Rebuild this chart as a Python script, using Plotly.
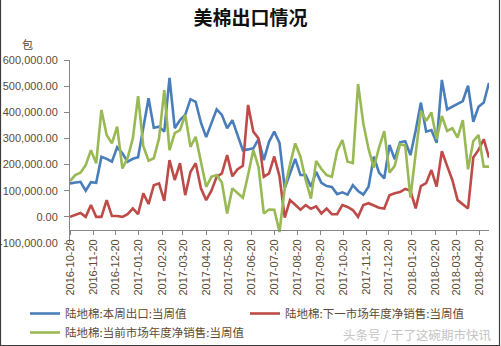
import pandas as pd
import plotly.graph_objects as go

# Weekly report dates (Thursdays)
weeks = pd.date_range("2016-10-20", periods=81, freq="7D").strftime("%Y-%m-%d").tolist()

# 陆地棉:本周出口:当周值 (bales)
exports_this_week = [
    128000, 131000, 134000, 100000, 133000, 130000, 230000, 222000, 211000, 266000,
    243000, 211000, 222000, 228000, 339000, 454000, 341000, 345000, 326000, 532000,
    339000, 370000, 390000, 450000, 440000, 360000, 305000, 355000, 411000, 390000,
    339000, 370000, 315000, 255000, 258000, 262000, 297000, 217000, 287000, 326000,
    283000, 109000, 166000, 222000, 160000, 160000, 115000, 172000, 130000, 118000,
    114000, 87000, 94000, 85000, 121000, 99000, 85000, 115000, 230000, 169000,
    147000, 275000, 220000, 285000, 289000, 236000, 330000, 437000, 326000, 332000,
    283000, 524000, 411000, 421000, 430000, 443000, 502000, 364000, 421000, 437000,
    513000,
]

# 陆地棉:下一市场年度净销售:当周值 (bales)
next_year_net_sales = [
    0, 8000, 15000, 0, 45000, 0, 0, 64000, 3000, 3000,
    0, 10000, 32000, 10000, 90000, 49000, 121000, 128000, 61000, 217000,
    141000, 205000, 83000, 172000, 205000, 109000, 64000, 100000, 153000, 166000,
    236000, 155000, 182000, 195000, 428000, 326000, 300000, 153000, 166000, 231000,
    155000, -3000, 64000, 46000, 27000, 45000, 31000, 40000, 13000, 32000,
    10000, 10000, 45000, 38000, 26000, 0, 45000, 52000, 45000, 35000,
    32000, 83000, 90000, 95000, 107000, 100000, 32000, 118000, 129000, 179000,
    116000, 251000, 195000, 141000, 64000, 47000, 32000, 227000, 256000, 297000,
    226000,
]

# 陆地棉:当前市场年度净销售:当周值 (bales)
current_year_net_sales = [
    137000, 160000, 169000, 198000, 255000, 205000, 409000, 313000, 281000, 345000,
    185000, 225000, 300000, 462000, 270000, 215000, 224000, 300000, 485000, 255000,
    320000, 332000, 390000, 268000, 306000, 217000, 115000, 153000, 160000, 131000,
    13000, 109000, 90000, 73000, 160000, 256000, 190000, 13000, 28000, 27000,
    -58000, 110000, 200000, 281000, 230000, 141000, 70000, 214000, 183000, 160000,
    153000, 252000, 294000, 211000, 206000, 508000, 358000, 260000, 188000, 265000,
    328000, 169000, 195000, 278000, 273000, 74000, 243000, 405000, 367000, 399000,
    297000, 386000, 329000, 339000, 303000, 370000, 182000, 290000, 313000, 192000,
    192000,
]

series_names = [
    "陆地棉:本周出口:当周值",
    "陆地棉:下一市场年度净销售:当周值",
    "陆地棉:当前市场年度净销售:当周值",
]
series_colors = ["#4A7EBB", "#BE4B48", "#98B954"]

# Axis ticks
x_tick_dates = [
    "2016-10-20", "2016-11-20", "2016-12-20", "2017-01-20", "2017-02-20",
    "2017-03-20", "2017-04-20", "2017-05-20", "2017-06-20", "2017-07-20",
    "2017-08-20", "2017-09-20", "2017-10-20", "2017-11-20", "2017-12-20",
    "2018-01-20", "2018-02-20", "2018-03-20", "2018-04-20",
]
y_tick_values = [-100000, 0, 100000, 200000, 300000, 400000, 500000, 600000]
y_tick_labels = ["-100,000.00", "0.00", "100,000.00", "200,000.00", "300,000.00",
                 "400,000.00", "500,000.00", "600,000.00"]

W, H = 501, 346
ML, MR, MT, MB = 70, 12, 60, 103
PW, PH = W - ML - MR, H - MT - MB
Y_MIN, Y_MAX = -100000, 600000
X_AXIS_AT = -50000


def px_x(px):
    return (px - ML) / PW


def px_y(py):
    return (H - MB - py) / PH


text_color = "#5e4a34"
axis_color = "#868686"
font_family = "Liberation Sans, Noto Sans CJK SC, sans-serif"
cjk_family = "Noto Sans CJK SC, sans-serif"

fig = go.Figure()
for name, vals, color in zip(series_names,
                             [exports_this_week, next_year_net_sales, current_year_net_sales],
                             series_colors):
    fig.add_trace(go.Scatter(
        x=weeks, y=vals, name=name, mode="lines",
        line=dict(color=color, width=2.6),
    ))

fig.update_layout(
    width=W, height=H,
    margin=dict(l=ML, r=MR, t=MT, b=MB, autoexpand=False),
    paper_bgcolor="white", plot_bgcolor="white",
    title=dict(text="美棉出口情况", x=0.5, xref="container", xanchor="center",
               y=1 - 18 / H, yref="container", yanchor="middle",
               font=dict(family=cjk_family, size=19, color="#111111", weight="bold")),
    xaxis=dict(
        type="date",
        range=[weeks[0], weeks[-1]],
        anchor="free",
        position=(X_AXIS_AT - Y_MIN) / (Y_MAX - Y_MIN),
        tickvals=x_tick_dates, ticktext=x_tick_dates,
        tickangle=-90,
        ticks="outside", ticklen=4, tickcolor=axis_color,
        showline=True, linecolor=axis_color, linewidth=1,
        showgrid=False, zeroline=False, automargin=False,
        tickfont=dict(family=font_family, size=11, color=text_color),
    ),
    yaxis=dict(
        range=[Y_MIN, Y_MAX],
        tickvals=y_tick_values, ticktext=y_tick_labels,
        ticks="outside", ticklen=5, tickcolor=axis_color,
        ticklabelstandoff=4,
        showline=True, linecolor=axis_color, linewidth=1,
        showgrid=False, zeroline=False, automargin=False,
        tickfont=dict(family=font_family, size=11, color=text_color),
    ),
    legend=dict(
        orientation="h",
        xref="paper", yref="paper",
        x=px_x(25), y=px_y(299), xanchor="left", yanchor="top",
        entrywidth=175, entrywidthmode="pixels",
        itemwidth=30, tracegroupgap=0,
        font=dict(family=cjk_family, size=11.5, color=text_color),
        bgcolor="rgba(0,0,0,0)",
    ),
    showlegend=True,
)

# Unit label above the value axis
fig.add_annotation(text="包", x=px_x(27), y=px_y(44), xref="paper", yref="paper",
                   showarrow=False, xanchor="center", yanchor="middle",
                   font=dict(family=cjk_family, size=11, color=text_color))

# Source mark in the lower right corner
fig.add_annotation(text="头条号 / 干了这碗期市快讯", x=px_x(494), y=px_y(334),
                   xref="paper", yref="paper", showarrow=False,
                   xanchor="right", yanchor="middle",
                   font=dict(family=cjk_family, size=12.5, color="#c4c4c4"))

# Chart frame (left, bottom, right edges)
fig.add_shape(type="path", xref="paper", yref="paper",
              path=f"M {px_x(0.5)},{px_y(0)} L {px_x(0.5)},{px_y(345.5)} "
                   f"L {px_x(499.5)},{px_y(345.5)} L {px_x(499.5)},{px_y(0)}",
              line=dict(color="#3c3c3c", width=1.2))

fig.write_html("out.html")
